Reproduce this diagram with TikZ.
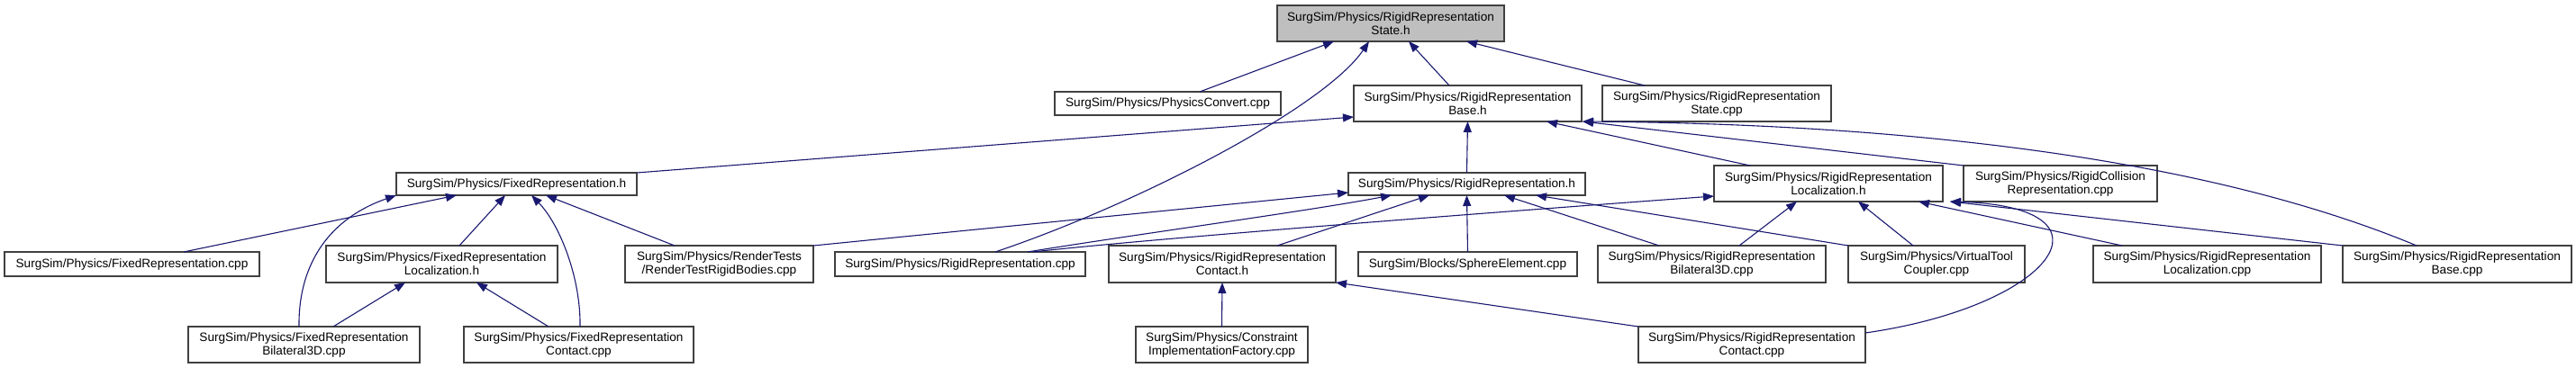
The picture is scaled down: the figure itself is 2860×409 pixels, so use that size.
\documentclass[tikz,border=0pt]{standalone}
\usepackage{fontspec}
\setmainfont{Liberation Sans}
\usetikzlibrary{arrows.meta}
\definecolor{edgec}{HTML}{191970}
\definecolor{boxc}{HTML}{404040}
\definecolor{hl}{HTML}{BFBFBF}
\tikzset{
  fbox/.style={draw=boxc, line width=1.3pt, fill=white, inner sep=0pt, outer sep=0pt,
    align=center, font=\fontsize{13.6}{15}\selectfont},
  cur/.style={fbox, fill=hl},
  dep/.style={draw=edgec, line width=1.1pt, -{Triangle[length=12pt,width=9pt]}},
}
\begin{document}
\begin{tikzpicture}[x=1pt,y=-1pt]
\useasboundingbox[fill=white] (0,0) rectangle (2860,409);
% row 0
\node[cur, minimum width=252, minimum height=40] (state) at (1544,26) {SurgSim/Physics/RigidRepresentation\\State.h};
% row 1
\node[fbox, minimum width=251, minimum height=26] (conv) at (1296.5,115) {SurgSim/Physics/PhysicsConvert.cpp};
\node[fbox, minimum width=253, minimum height=40] (baseh) at (1629.5,115) {SurgSim/Physics/RigidRepresentation\\Base.h};
\node[fbox, minimum width=254, minimum height=40] (statecpp) at (1906,115) {SurgSim/Physics/RigidRepresentation\\State.cpp};
% row 2
\node[fbox, minimum width=267, minimum height=25] (frh) at (573.5,204.5) {SurgSim/Physics/FixedRepresentation.h};
\node[fbox, minimum width=263, minimum height=25] (rrh) at (1628.5,204.5) {SurgSim/Physics/RigidRepresentation.h};
\node[fbox, minimum width=254, minimum height=40] (rrloch) at (2030,204) {SurgSim/Physics/RigidRepresentation\\Localization.h};
\node[fbox, minimum width=215, minimum height=40] (collision) at (2287.5,204) {SurgSim/Physics/RigidCollision\\Representation.cpp};
% row 3
\node[fbox, minimum width=283, minimum height=27] (frcpp) at (146.5,293.5) {SurgSim/Physics/FixedRepresentation.cpp};
\node[fbox, minimum width=257, minimum height=41] (frloch) at (490.5,293.5) {SurgSim/Physics/FixedRepresentation\\Localization.h};
\node[fbox, minimum width=209, minimum height=41] (render) at (798.5,293.5) {SurgSim/Physics/RenderTests\\/RenderTestRigidBodies.cpp};
\node[fbox, minimum width=278, minimum height=27] (rrcpp) at (1066,293.5) {SurgSim/Physics/RigidRepresentation.cpp};
\node[fbox, minimum width=252, minimum height=41] (rrcontacth) at (1357,293.5) {SurgSim/Physics/RigidRepresentation\\Contact.h};
\node[fbox, minimum width=243, minimum height=27] (sphere) at (1629.5,293.5) {SurgSim/Blocks/SphereElement.cpp};
\node[fbox, minimum width=253, minimum height=41] (rrbil) at (1900.5,293.5) {SurgSim/Physics/RigidRepresentation\\Bilateral3D.cpp};
\node[fbox, minimum width=196, minimum height=41] (vtc) at (2150,293.5) {SurgSim/Physics/VirtualTool\\Coupler.cpp};
\node[fbox, minimum width=253, minimum height=41] (rrloccpp) at (2450.5,293.5) {SurgSim/Physics/RigidRepresentation\\Localization.cpp};
\node[fbox, minimum width=254, minimum height=41] (rrbasecpp) at (2728,293.5) {SurgSim/Physics/RigidRepresentation\\Base.cpp};
% row 4
\node[fbox, minimum width=257, minimum height=40] (frbil) at (337.5,383) {SurgSim/Physics/FixedRepresentation\\Bilateral3D.cpp};
\node[fbox, minimum width=255, minimum height=40] (frcontact) at (642.5,383) {SurgSim/Physics/FixedRepresentation\\Contact.cpp};
\node[fbox, minimum width=191, minimum height=40] (cif) at (1356.5,383) {SurgSim/Physics/Constraint\\ImplementationFactory.cpp};
\node[fbox, minimum width=252, minimum height=40] (rrcontactcpp) at (1945,383) {SurgSim/Physics/RigidRepresentation\\Contact.cpp};

% edges into state
\draw[dep] ([xshift=161]conv.north west) -- ([xshift=63]state.south west);
\draw[dep] ([xshift=106]baseh.north west) -- ([xshift=146]state.south west);
\draw[dep] ([xshift=47]statecpp.north west) -- ([xshift=210]state.south west);
\draw[dep] ([xshift=178]rrcpp.north west) .. controls (1260,228) and (1470,120) .. ([xshift=102]state.south west);
% edges into baseh
\draw[dep] (frh.north east) -- ([yshift=5]baseh.south west);
\draw[dep] (rrh.north) -- (baseh.south);
\draw[dep] ([xshift=40]rrloch.north west) -- ([xshift=214]baseh.south west);
\draw[dep] (collision.north west) -- ([xshift=1]baseh.south east);
\draw[dep] ([xshift=82]rrbasecpp.north west) .. controls (2400,155) and (2000,137) .. ([xshift=1]baseh.south east);
% edges into frh
\draw[dep] ([xshift=199]frcpp.north west) -- ([xshift=67]frh.south west);
\draw[dep] ([xshift=148]frloch.north west) -- ([xshift=121]frh.south west);
\draw[dep] ([xshift=55]render.north west) -- ([xshift=166]frh.south west);
\draw[dep] ([xshift=123]frbil.north west) .. controls (331,300) and (360,245) .. (frh.south west);
\draw[dep] ([xshift=129]frcontact.north west) .. controls (645,310) and (622,250) .. ([xshift=150]frh.south west);
% edges into frloch
\draw[dep] ([xshift=161]frbil.north west) -- ([xshift=88]frloch.south west);
\draw[dep] ([xshift=94]frcontact.north west) -- ([xshift=167]frloch.south west);
% edges into rrh
\draw[dep] (render.north east) -- ([yshift=3]rrh.south west);
\draw[dep] ([xshift=214]rrcpp.north west) .. controls (1250,262) and (1450,235) .. ([xshift=48]rrh.south west);
\draw[dep] ([xshift=187]rrcontacth.north west) -- ([xshift=90]rrh.south west);
\draw[dep] (sphere.north) -- (rrh.south);
\draw[dep] ([xshift=68]rrbil.north west) -- ([xshift=173]rrh.south west);
\draw[dep] (vtc.north west) -- ([xshift=208]rrh.south west);
% edges into rrloch
\draw[dep] ([xshift=220]rrcpp.north west) .. controls (1250,268) and (1600,240) .. ([yshift=6]rrloch.south west);
\draw[dep] ([xshift=157]rrbil.north west) -- ([xshift=92]rrloch.south west);
\draw[dep] ([xshift=72]vtc.north west) -- ([xshift=160]rrloch.south west);
\draw[dep] ([xshift=32]rrloccpp.north west) -- ([xshift=227]rrloch.south west);
\draw[dep] (rrbasecpp.north west) -- ([xshift=8]rrloch.south east);
\draw[dep] ([yshift=-7]rrcontactcpp.north east) .. controls (2280,340) and (2360,230) .. ([xshift=8]rrloch.south east);
% edges into rrcontacth
\draw[dep] (cif.north) -- (rrcontacth.south);
\draw[dep] (rrcontactcpp.north west) -- (rrcontacth.south east);
\end{tikzpicture}
\end{document}
